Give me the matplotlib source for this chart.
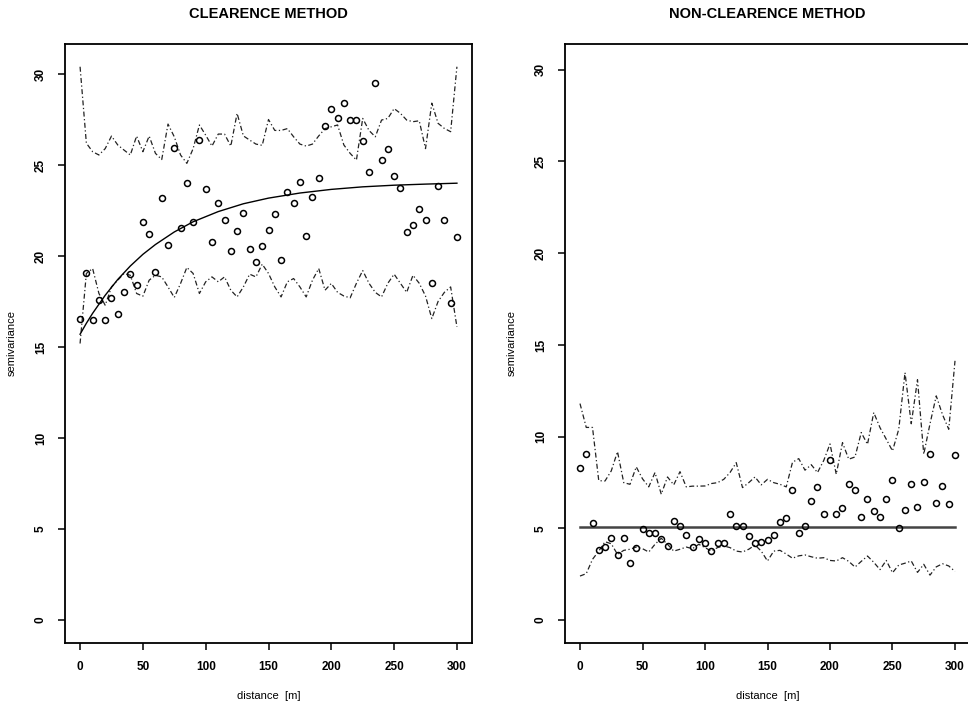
import numpy as np
import matplotlib
matplotlib.use("Agg")
import matplotlib.pyplot as plt

# ---------------------------------------------------------------------------
# Empirical semivariograms with simulation envelopes, lag step 5 m
# ---------------------------------------------------------------------------
LAGS = list(range(0, 305, 5))

CLEAR_GAMMA = [16.56, 19.05, 16.47, 17.6, 16.47, 17.7, 16.8, 18.0, 19.0, 18.4,
               21.84, 21.2, 19.1, 23.2, 20.6, 25.95, 21.55, 24.0, 21.84, 26.37,
               23.66, 20.78, 22.92, 21.97, 20.28, 21.38, 22.34, 20.36, 19.68, 20.54,
               21.42, 22.3, 19.8, 23.49, 22.92, 24.04, 21.1, 23.22, 24.26, 27.16,
               28.07, 27.56, 28.42, 27.47, 27.5, 26.3, 24.63, 29.49, 25.3, 25.9,
               24.4, 23.75, 21.33, 21.73, 22.6, 22.0, 18.52, 23.84, 22.0, 17.42, 21.05]
CLEAR_UPPER = [30.4, 26.2, 25.73, 25.55, 25.9, 26.59, 26.1, 25.82, 25.55, 26.59,
               25.73, 26.59, 25.64, 25.3, 27.25, 26.55, 25.55, 25.09, 25.9, 27.2,
               26.64, 26.04, 26.7, 26.7, 26.04, 27.84, 26.6, 26.37, 26.15, 26.08,
               27.5, 26.9, 26.9, 27.0, 26.55, 26.15, 26.04, 26.15, 26.6, 27.0,
               27.1, 27.2, 26.1, 25.64, 25.27, 27.56, 26.9, 26.55, 27.47, 27.56,
               28.1, 27.84, 27.47, 27.38, 27.43, 25.9, 28.4, 27.29, 27.01, 26.83, 30.4]
CLEAR_LOWER = [15.19, 19.04, 19.31, 17.94, 17.29, 18.3, 18.67, 19.04, 18.94, 17.94,
               17.79, 18.67, 18.94, 18.85, 18.3, 17.72, 18.49, 19.37, 19.04, 17.94,
               18.58, 18.85, 18.58, 18.85, 18.12, 17.75, 18.3, 19.0, 18.85, 19.55,
               19.04, 18.3, 17.75, 18.58, 18.76, 18.3, 17.75, 18.67, 19.31, 18.12,
               18.49, 18.0, 17.8, 17.7, 18.5, 19.2, 18.5, 18.0, 17.75, 18.5,
               19.0, 18.5, 18.0, 18.94, 18.5, 17.8, 16.56, 17.5, 18.0, 18.3, 16.1]
# fitted exponential model
CLEAR_FIT_H = [0, 5, 10, 20, 30, 40, 50, 60, 75, 90, 110, 130, 150, 175, 200,
               225, 250, 275, 300]
CLEAR_FIT_G = [15.7, 16.3, 16.85, 17.84, 18.71, 19.45, 20.09, 20.63, 21.32, 21.88,
               22.44, 22.87, 23.18, 23.46, 23.66, 23.8, 23.89, 23.95, 24.0]

NONCLEAR_GAMMA = [8.31, 9.04, 5.27, 3.80, 4.0, 4.46, 3.55, 4.46, 3.09, 3.95,
                  4.95, 4.77, 4.77, 4.4, 4.04, 5.4, 5.13, 4.62, 3.98, 4.4,
                  4.18, 3.76, 4.18, 4.22, 5.8, 5.13, 5.13, 4.58, 4.18, 4.26,
                  4.36, 4.64, 5.36, 5.55, 7.08, 4.77, 5.13, 6.49, 7.26, 5.8,
                  8.71, 5.8, 6.13, 7.4, 7.08, 5.64, 6.62, 5.95, 5.62, 6.58,
                  7.64, 5.0, 6.0, 7.44, 6.18, 7.55, 9.07, 6.4, 7.31, 6.31, 8.98]
NONCLEAR_UPPER = [11.8, 10.5, 10.5, 7.6, 7.58, 8.13, 9.18, 7.49, 7.4, 8.35,
                  7.7, 7.26, 8.04, 6.86, 7.8, 7.37, 8.09, 7.26, 7.3, 7.3,
                  7.31, 7.44, 7.49, 7.67, 8.04, 8.58, 7.22, 7.49, 7.8, 7.37,
                  7.67, 7.49, 7.4, 7.26, 8.6, 8.8, 8.17, 8.47, 8.04, 8.7,
                  9.6, 7.95, 9.67, 8.77, 8.89, 10.22, 9.58, 11.31, 10.49, 9.86,
                  9.22, 10.4, 13.49, 10.7, 13.1, 9.04, 10.7, 12.22, 11.2, 10.4, 14.13]
NONCLEAR_LOWER = [2.40, 2.53, 3.31, 3.76, 4.27, 4.16, 3.58, 3.80, 3.86, 3.98,
                  3.89, 3.71, 4.13, 4.46, 4.13, 3.76, 3.86, 3.98, 3.89, 4.13,
                  3.95, 3.76, 3.95, 4.04, 3.95, 3.76, 3.71, 3.86, 4.09, 3.76,
                  3.22, 3.76, 3.80, 3.6, 3.37, 3.5, 3.55, 3.45, 3.37, 3.4,
                  3.25, 3.22, 3.4, 3.2, 2.89, 3.2, 3.49, 3.15, 2.75, 3.25,
                  2.58, 3.0, 3.1, 3.22, 2.6, 3.04, 2.45, 2.9, 3.07, 2.95, 2.65]
# pure nugget model
NONCLEAR_FIT_H = [0, 300]
NONCLEAR_FIT_G = [5.09, 5.09]

TITLES = ["CLEARENCE METHOD", "NON-CLEARENCE METHOD"]
XTICKS = [0, 50, 100, 150, 200, 250, 300]
YTICKS = [0, 5, 10, 15, 20, 25, 30]

plt.rcParams["font.family"] = ["Liberation Sans", "DejaVu Sans"]
plt.rcParams["font.weight"] = "bold"

fig = plt.figure(figsize=(9.68, 7.06), dpi=100)
axL = fig.add_axes([65 / 968, 1 - 643 / 706, 407 / 968, 599 / 706])
axR = fig.add_axes([565 / 968, 1 - 643 / 706, 405 / 968, 599 / 706])

ENV_STYLE = dict(color="#222222", lw=0.9, ls=(0, (4, 2, 1, 2)))
PT_STYLE = dict(ls="none", marker="o", ms=4.3, mfc="none", mec="black", mew=1.1)


def draw_panel(ax, gamma, upper, lower, fit_h, fit_g, fit_kw, title, ylim):
    ax.plot(LAGS, upper, **ENV_STYLE)
    ax.plot(LAGS, lower, **ENV_STYLE)
    ax.plot(fit_h, fit_g, **fit_kw)
    ax.plot(LAGS, gamma, **PT_STYLE)

    ax.set_xlim(-12, 312)
    ax.set_ylim(*ylim)
    ax.set_xticks(XTICKS)
    ax.set_yticks(YTICKS)
    ax.tick_params(direction="out", length=5, width=1.1, labelsize=8.5, pad=8)
    for lab in ax.get_yticklabels():
        lab.set_rotation(90)
        lab.set_va("center")
    for sp in ax.spines.values():
        sp.set_linewidth(1.3)
    ax.set_title(title, fontsize=10.5, fontweight="bold", pad=19)
    ax.set_xlabel("distance  [m]", fontsize=8, labelpad=13)
    ax.set_ylabel("semivariance", fontsize=8, labelpad=13)


draw_panel(axL, CLEAR_GAMMA, CLEAR_UPPER, CLEAR_LOWER, CLEAR_FIT_H, CLEAR_FIT_G,
           dict(color="black", lw=1.0), TITLES[0], (-1.27, 31.65))
draw_panel(axR, NONCLEAR_GAMMA, NONCLEAR_UPPER, NONCLEAR_LOWER,
           NONCLEAR_FIT_H, NONCLEAR_FIT_G,
           dict(color="#444444", lw=1.8), TITLES[1], (-1.25, 31.4))

fig.savefig("out.png", dpi=100)
